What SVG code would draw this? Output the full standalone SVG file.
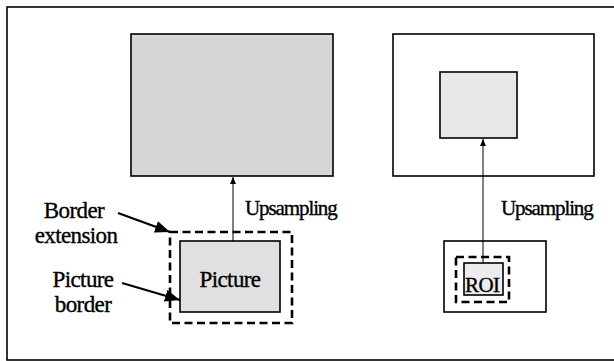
<svg xmlns="http://www.w3.org/2000/svg" width="614" height="361" viewBox="0 0 614 361">
<style>
  .t { font-family: "Liberation Serif", "Times New Roman", serif; fill: #000; stroke: #000; stroke-width: 0.35; letter-spacing: -0.6px; }
  .up { font-size: 21px; letter-spacing: -1.1px; }
  .box { stroke: #000; stroke-width: 1.6; }
  .thin { stroke: #000; stroke-width: 1; fill: none; }
  .dash { fill: none; stroke: #000; stroke-width: 2.6; stroke-dasharray: 8 4.5; }
</style>
<defs>
  <marker id="ah" markerWidth="8" markerHeight="8" refX="7" refY="4" orient="auto" markerUnits="userSpaceOnUse">
    <path d="M0,1 L7,4 L0,7 Z" fill="#000"/>
  </marker>
  <marker id="bigah" markerWidth="16" markerHeight="14" refX="15" refY="7" orient="auto" markerUnits="userSpaceOnUse">
    <path d="M0,1 L15,7 L0,13 Z" fill="#000"/>
  </marker>
</defs>
<rect x="7" y="7" width="620" height="353" fill="#fff" stroke="#000" stroke-width="1.6"/>

<g id="upsampled-picture">
  <rect class="box" x="131" y="34" width="202" height="142" fill="#d6d6d6"/>
</g>
<g id="border-extension">
  <rect class="dash" x="170" y="232" width="122" height="91"/>
</g>
<g id="picture">
  <rect class="box" x="180" y="241" width="100" height="71" fill="#e0e0e0"/>
  <text class="t" x="230" y="287" font-size="23" text-anchor="middle">Picture</text>
</g>
<g id="upsampled-frame">
  <rect class="box" x="393" y="34" width="201" height="142" fill="#fff" stroke-width="1.3"/>
</g>
<g id="upsampled-roi">
  <rect class="box" x="440" y="72" width="77" height="66" fill="#e8e8e8"/>
</g>
<g id="frame">
  <rect class="box" x="444" y="241" width="102" height="71" fill="#fff" stroke-width="1.2"/>
</g>
<g id="roi-extension">
  <rect class="dash" x="456" y="257" width="53" height="45" stroke-width="3"/>
</g>
<g id="roi">
  <rect class="box" x="464" y="263" width="39" height="32" fill="#ececec" stroke-width="1.3"/>
  <text class="t" x="465" y="292" font-size="21" letter-spacing="-1.2">ROI</text>
</g>

<g id="labels">
  <text class="t up" x="245" y="215">Upsampling</text>
  <text class="t up" x="501" y="215">Upsampling</text>
  <text class="t" x="74" y="218" font-size="23" text-anchor="middle">Border</text>
  <text class="t" x="76" y="243" font-size="23" text-anchor="middle">extension</text>
  <text class="t" x="83" y="287" font-size="23" text-anchor="middle">Picture</text>
  <text class="t" x="83" y="312" font-size="23" text-anchor="middle">border</text>
</g>

<g id="connectors">
  <line class="thin" x1="233" y1="241" x2="233" y2="177" marker-end="url(#ah)"/>
  <line class="thin" x1="483" y1="263" x2="483" y2="139" marker-end="url(#ah)"/>
  <line stroke="#000" stroke-width="2.2" x1="118" y1="213" x2="170" y2="232" marker-end="url(#bigah)"/>
  <line stroke="#000" stroke-width="2.2" x1="122" y1="283" x2="180" y2="300" marker-end="url(#bigah)"/>
</g>
</svg>
